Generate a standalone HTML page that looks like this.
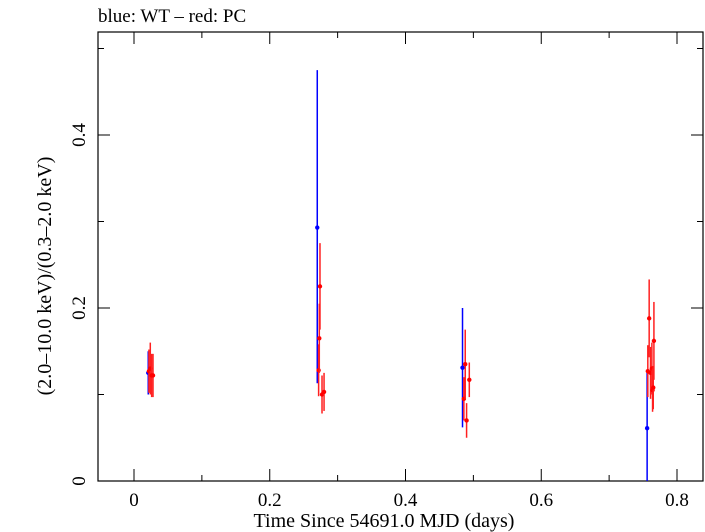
<!DOCTYPE html>
<html><head><meta charset="utf-8"><style>
body{margin:0;background:#fff}
svg{display:block;font-family:"Liberation Serif",serif}
</style></head><body>
<svg width="705" height="532" viewBox="0 0 705 532">
<text x="98" y="22" font-size="19">blue: WT – red: PC</text>
<rect x="98" y="32" width="605" height="449" fill="none" stroke="#000" stroke-width="1.2"/>
<g id="ticks"></g>
<g id="marks"></g>
<text x="384" y="527" font-size="20" text-anchor="middle">Time Since 54691.0 MJD (days)</text>
<text transform="translate(51,276) rotate(-90)" font-size="20" text-anchor="middle">(2.0–10.0 keV)/(0.3–2.0 keV)</text>
</svg>
<script>
const xTicks=[0,0.2,0.4,0.6,0.8];
const xTickLabels=["0","0.2","0.4","0.6","0.8"];
const xMinor=[0.1,0.3,0.5,0.7];
const yTicks=[0,0.2,0.4];
const yTickLabels=["0","0.2","0.4"];
const yMinor=[0.1,0.3,0.5];
const wtX=[0.021,0.27,0.484,0.756];
const wtY=[0.125,0.293,0.131,0.061];
const wtLo=[0.025,0.18,0.069,0.061];
const wtHi=[0.025,0.182,0.069,0.064];
const pcX=[0.022,0.024,0.026,0.028,0.272,0.273,0.274,0.277,0.28,0.486,0.488,0.49,0.494,0.757,0.759,0.761,0.763,0.764,0.765,0.766];
const pcY=[0.127,0.13,0.122,0.122,0.128,0.165,0.225,0.1,0.103,0.095,0.135,0.07,0.117,0.127,0.188,0.125,0.13,0.105,0.108,0.162];
const pcErr=[0.025,0.03,0.025,0.025,0.03,0.04,0.05,0.022,0.022,0.025,0.04,0.02,0.02,0.03,0.045,0.03,0.03,0.025,0.025,0.045];
const X=v=>134+v*678.75, Y=v=>481-v*865;
const NS="http://www.w3.org/2000/svg";
function mk(t,a,p){const e=document.createElementNS(NS,t);for(const k in a)e.setAttribute(k,a[k]);p.appendChild(e);return e;}
const tg=document.getElementById('ticks'), mg=document.getElementById('marks');
xTicks.forEach((v,i)=>{
 let l=mk('line',{x1:X(v),x2:X(v),y1:481,y2:469,stroke:'#000'},tg);
 
 
 let l2=mk('line',{x1:X(v),x2:X(v),y1:32,y2:44,stroke:'#000'},tg);
 
 
 let t=mk('text',{x:X(v),y:506,'font-size':19,'text-anchor':'middle'},tg);t.textContent=xTickLabels[i];
 
 
});
xMinor.forEach(v=>{
 let l=mk('line',{x1:X(v),x2:X(v),y1:481,y2:475,stroke:'#000'},tg);
 
 
 let l2=mk('line',{x1:X(v),x2:X(v),y1:32,y2:38,stroke:'#000'},tg);
 
 
});
yTicks.forEach((v,i)=>{
 let l=mk('line',{x1:98,x2:110,y1:Y(v),y2:Y(v),stroke:'#000'},tg);
 
 
 let l2=mk('line',{x1:691,x2:703,y1:Y(v),y2:Y(v),stroke:'#000'},tg);
 
 
 let t=mk('text',{transform:`translate(85,${Y(v)}) rotate(-90)`,'font-size':19,'text-anchor':'middle'},tg);t.textContent=yTickLabels[i];
 
 
});
yMinor.forEach(v=>{
 let l=mk('line',{x1:98,x2:104,y1:Y(v),y2:Y(v),stroke:'#000'},tg);
 
 
 let l2=mk('line',{x1:697,x2:703,y1:Y(v),y2:Y(v),stroke:'#000'},tg);
 
 
});
wtX.forEach((x,i)=>{
 let l=mk('line',{x1:X(x),x2:X(x),y1:Y(wtY[i]+wtHi[i]),y2:Y(Math.max(0,wtY[i]-wtLo[i])),stroke:'#0000ff','stroke-width':1.5},mg);
 
 
 let c=mk('circle',{cx:X(x),cy:Y(wtY[i]),r:2.2,fill:'#0000ff'},mg);
 
 
});
pcX.forEach((x,i)=>{
 let l=mk('line',{x1:X(x),x2:X(x),y1:Y(pcY[i]+pcErr[i]),y2:Y(pcY[i]-pcErr[i]),stroke:'#ff2020','stroke-width':1.5},mg);
 
 
 let c=mk('circle',{cx:X(x),cy:Y(pcY[i]),r:2.2,fill:'#ff0000'},mg);
 
 
});
</script>
</body></html>
